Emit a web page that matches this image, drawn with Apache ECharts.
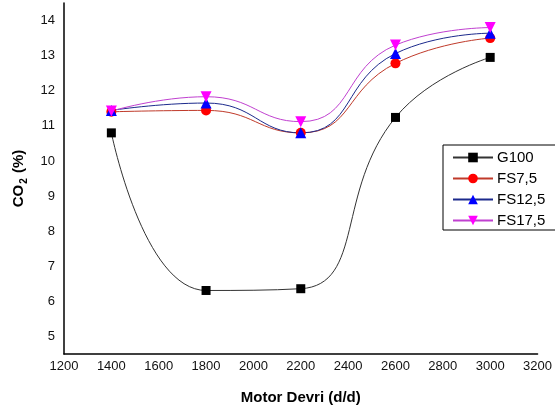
<!DOCTYPE html>
<html>
<head>
<meta charset="utf-8">
<script src="https://cdn.jsdelivr.net/npm/echarts@6/dist/echarts.min.js"></script>
<style>html,body{margin:0;padding:0;background:#fff;}#c{width:555px;height:412px;}</style>
</head>
<body>
<div id="c"></div>
<script>
const rpm = [1400, 1800, 2200, 2600, 3000];
const g100 = [10.8, 6.31, 6.36, 11.24, 12.95];
const fs75 = [11.4, 11.44, 10.8, 12.78, 13.5];
const fs125 = [11.44, 11.65, 10.8, 13.06, 13.64];
const fs175 = [11.42, 11.83, 11.12, 13.3, 13.8];
const yTicks = [5, 6, 7, 8, 9, 10, 11, 12, 13, 14];
const seriesNames = ['G100', 'FS7,5', 'FS12,5', 'FS17,5'];

const pairs = arr => rpm.map((x, i) => [x, arr[i]]);
const font = 'Liberation Sans, Arial, sans-serif';

const chart = echarts.init(document.getElementById('c'), null, {renderer: 'canvas'});
chart.setOption({
  animation: false,
  backgroundColor: '#fff',
  grid: {left: 64, right: 12, top: 3, bottom: 58},
  xAxis: {
    type: 'value', min: 1200, max: 3200, interval: 200,
    axisLine: {show: true, onZero: false, lineStyle: {color: '#000', width: 1.5}},
    axisTick: {show: false},
    splitLine: {show: false},
    axisLabel: {color: '#111', fontSize: 13, fontFamily: font, margin: 6, showMaxLabel: true,
                formatter: v => String(v)},
    name: 'Motor Devri (d/d)', nameLocation: 'middle', nameGap: 36,
    nameTextStyle: {color: '#000', fontSize: 15, fontWeight: 'bold', fontFamily: font}
  },
  yAxis: {
    type: 'value', min: 4.5, max: 14.5,
    axisLine: {show: true, onZero: false, lineStyle: {color: '#000', width: 1.5}},
    axisTick: {show: false},
    splitLine: {show: false},
    axisLabel: {color: '#111', fontSize: 13, fontFamily: font, margin: 9, customValues: yTicks},
    name: '{a|CO}{b|2}{a| (%)}', nameLocation: 'middle', nameGap: 27,
    nameTextStyle: {
      color: '#000', fontFamily: font, fontWeight: 'bold',
      rich: {
        a: {fontSize: 15, fontWeight: 'bold', fontFamily: font, color: '#000', verticalAlign: 'bottom', lineHeight: 18},
        b: {fontSize: 10, fontWeight: 'bold', fontFamily: font, color: '#000', verticalAlign: 'bottom', lineHeight: 12, padding: [0, 1, -3, 1]}
      }
    }
  },
  legend: {
    orient: 'vertical', left: 443, top: 145,
    data: seriesNames,
    borderColor: '#000', borderWidth: 1,
    padding: [5, 60, 2, 9],
    itemWidth: 40, itemHeight: 12, itemGap: 6,
    textStyle: {color: '#000', fontSize: 15, fontFamily: font, padding: [0, 0, 0, -1]}
  },
  series: [
    {name: seriesNames[0], type: 'line', smooth: 0.5, data: pairs(g100),
     symbol: 'rect', symbolSize: 9,
     itemStyle: {color: '#000'}, lineStyle: {color: '#333', width: 1}},
    {name: seriesNames[1], type: 'line', smooth: 0.5, data: pairs(fs75),
     symbol: 'circle', symbolSize: 10,
     itemStyle: {color: '#ff0000'}, lineStyle: {color: '#c03a2a', width: 1}},
    {name: seriesNames[2], type: 'line', smooth: 0.5, data: pairs(fs125),
     symbol: 'triangle', symbolSize: 11,
     itemStyle: {color: '#0000ff'}, lineStyle: {color: '#1c2a8c', width: 1}},
    {name: seriesNames[3], type: 'line', smooth: 0.5, data: pairs(fs175),
     symbol: 'triangle', symbolRotate: 180, symbolSize: 11,
     itemStyle: {color: '#ff00ff'}, lineStyle: {color: '#c040d0', width: 1}}
  ]
});
</script>
</body>
</html>
